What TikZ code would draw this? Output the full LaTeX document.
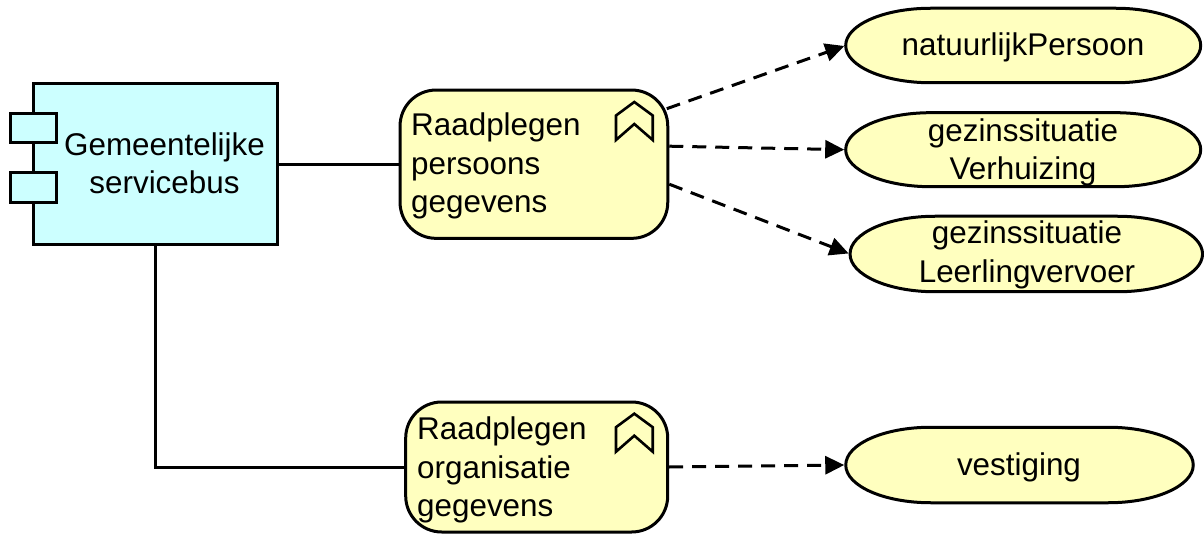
\documentclass[tikz,border=0pt]{standalone}
\usepackage{fontspec}
\setmainfont{Liberation Sans}
\usetikzlibrary{arrows.meta,calc}
\definecolor{compcol}{RGB}{204,255,255}
\definecolor{yel}{RGB}{255,255,191}
\tikzset{
  x=1pt,y=-1pt,
  ln/.style={draw=black,line width=3pt},
  comp/.style={ln,fill=compcol,sharp corners},
  tabbox/.style={comp,minimum width=45.3pt,minimum height=29.5pt,inner sep=0pt},
  func/.style={ln,fill=yel,rectangle,rounded corners=36pt,inner sep=0pt},
  obj/.style={rectangle,inner sep=0pt,outer sep=0pt},
  objshape/.style={ln,fill=yel,line join=round},
  chev/.style={ln,fill=yel,line width=2.6pt,miter limit=10},
  txt/.style={font=\fontsize{31.4}{38.4}\selectfont,align=center,inner sep=0pt,text=black},
  ltxt/.style={font=\fontsize{31.4}{38.4}\selectfont,align=left,inner sep=0pt,text=black,anchor=north west},
  solidln/.style={draw=black,line width=3pt},
  dep/.style={draw=black,line width=3pt,dash pattern=on 14pt off 9pt,-{Triangle[length=19pt,width=18pt]},shorten >=1.5pt}
}
\newcommand{\objoutline}[1]{%
  \draw[objshape] (#1.west)
    .. controls ($(#1.west)!.5523!(#1.north west)$) and ($(#1.north west)+(38,0)$) .. ($(#1.north west)+(85,0)$)
    -- ($(#1.north east)+(-85,0)$)
    .. controls ($(#1.north east)+(-38,0)$) and ($(#1.east)!.5523!(#1.north east)$) .. (#1.east)
    .. controls ($(#1.east)!.5523!(#1.south east)$) and ($(#1.south east)+(-38,0)$) .. ($(#1.south east)+(-85,0)$)
    -- ($(#1.south west)+(85,0)$)
    .. controls ($(#1.south west)+(38,0)$) and ($(#1.west)!.5523!(#1.south west)$) .. cycle;}
\begin{document}
\begin{tikzpicture}
\useasboundingbox (0,0) rectangle (1204,534);
\node[comp,minimum width=244pt,minimum height=161pt,inner sep=0pt] (bus) at (155.3,164.5) {};
\node[tabbox] (tabA) at (33.4,128) {};
\node[tabbox] (tabB) at (33.4,187.5) {};
\node[txt] (busT) at (164.5,163.5) {Gemeentelijke\\servicebus};
\node[func,minimum width=267.7pt,minimum height=148.3pt] (f1) at (533.9,164.2) {};
\node[ltxt] (f1T) at (411,113) {Raadplegen\\persoons\\gegevens};
\node[func,minimum width=262pt,minimum height=130pt] (f2) at (536.7,467) {};
\node[ltxt] (f2T) at (417,417) {Raadplegen\\organisatie\\gegevens};
\draw[chev] (616,140) -- (616,115.5) -- (634.3,102) -- (652.7,115.5) -- (652.7,140) -- (634.3,124) -- cycle;
\draw[chev] (616,451.7) -- (616,427.2) -- (634.3,413.7) -- (652.7,427.2) -- (652.7,451.7) -- (634.3,435.7) -- cycle;
\node[obj,minimum width=355pt,minimum height=74.5pt] (o1) at (1023.2,45.5) {};
\objoutline{o1}
\node[txt] (o1T) at (1023,47) {natuurlijkPersoon};
\node[obj,minimum width=355pt,minimum height=74pt] (o2) at (1023.2,149.7) {};
\objoutline{o2}
\node[txt] (o2T) at (1023,152.5) {gezinssituatie\\Verhuizing};
\node[obj,minimum width=352.5pt,minimum height=75.5pt] (o3) at (1026.3,254) {};
\objoutline{o3}
\node[txt] (o3T) at (1027,255) {gezinssituatie\\Leerlingvervoer};
\node[obj,minimum width=347.5pt,minimum height=75.5pt] (o4) at (1019.5,465) {};
\objoutline{o4}
\node[txt] (o4T) at (1019,467) {vestiging};
\draw[solidln] (bus.east |- f1.west) -- (f1.west);
\draw[solidln] (bus.south) -- (bus.south |- f2.west) -- (f2.west);
\draw[dep] ([shift={(-2.5,-55.5)}]f1.east) -- (o1.west);
\draw[dep] ([yshift=18pt]f1.east) -- (o2.west);
\draw[dep] ([yshift=-20pt]f1.east) -- (o3.west);
\draw[dep] (f2.east) -- (o4.west);
\end{tikzpicture}
\end{document}
